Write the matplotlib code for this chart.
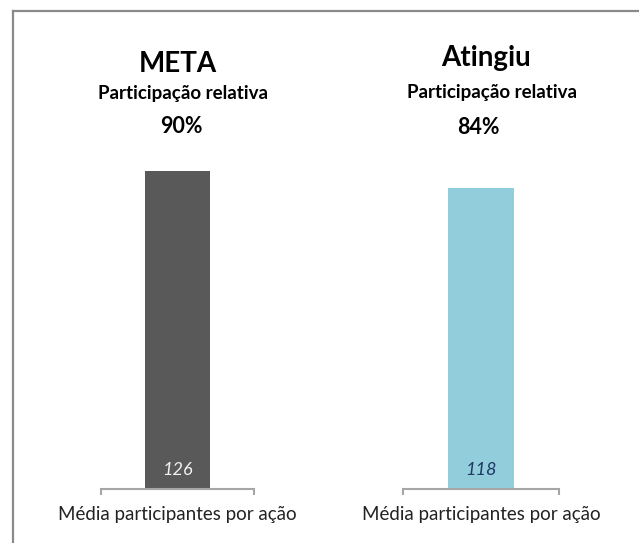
import matplotlib
matplotlib.use("Agg")
import matplotlib.pyplot as plt
from matplotlib.lines import Line2D

plt.rcParams['font.family'] = ['Lato', 'DejaVu Sans']

# Data
titles = ["META", "Atingiu"]
subtitle = "Participação relativa"
percent_labels = ["90%", "84%"]
category = "Média participantes por ação"
values = [126, 118]
bar_colors = ["#595959", "#92CDDC"]
value_colors = ["#f2f2f2", "#1f3864"]

W, H = 639, 543
fig = plt.figure(figsize=(W / 100, H / 100), dpi=100)

def fx(px):
    return px / W

def fy(py):
    return 1 - py / H

# Outer frame (cut off at right and bottom)
frame_c = "#8a8a8a"
fig.add_artist(Line2D([fx(13), fx(13)], [fy(11), 0], color=frame_c, lw=1.6, transform=fig.transFigure))
fig.add_artist(Line2D([fx(13), 1], [fy(11), fy(11)], color=frame_c, lw=1.6, transform=fig.transFigure))

axes_px = [(101, 254), (403, 559)]
ylims = [134.3, 132.9]
title_pos = [(178, 72), (486, 66)]
sub_pos = [(183, 99), (492, 98)]
pct_pos = [(181, 133), (478, 134)]

for i in range(2):
    l, r = axes_px[i]
    ax = fig.add_axes([fx(l), fy(489), (r - l) / W, (489 - 150) / H])
    ax.bar([0], [values[i]], width=0.425, color=bar_colors[i])
    ax.set_xlim(-0.5, 0.5)
    ax.set_ylim(0, ylims[i])
    for s in ["top", "left", "right"]:
        ax.spines[s].set_visible(False)
    ax.spines["bottom"].set_color("#a6a6a6")
    ax.spines["bottom"].set_linewidth(1.5)
    ax.set_yticks([])
    ax.set_xticks([-0.5, 0.5])
    ax.set_xticklabels([])
    ax.tick_params(axis="x", which="major", direction="out", length=4, width=1.5, color="#a6a6a6")
    ax.set_xticks([0], minor=True)
    ax.set_xticklabels([category], minor=True)
    ax.tick_params(axis="x", which="minor", length=0, pad=12, labelsize=13.5, labelcolor="#222222")
    ax.annotate(str(values[i]), (0, 0), xytext=(0, 14), textcoords="offset points",
                ha="center", va="center", fontsize=13, style="italic", color=value_colors[i])

    fig.text(fx(title_pos[i][0]), fy(title_pos[i][1]), titles[i], ha="center", va="baseline",
             fontsize=20, fontweight="bold", color="#000000")
    fig.text(fx(sub_pos[i][0]), fy(sub_pos[i][1]), subtitle, ha="center", va="baseline",
             fontsize=13.5, fontweight="bold", color="#000000")
    fig.text(fx(pct_pos[i][0]), fy(pct_pos[i][1]), percent_labels[i], ha="center", va="baseline",
             fontsize=15.5, fontweight="bold", color="#000000")

fig.savefig("out.png", dpi=100)
